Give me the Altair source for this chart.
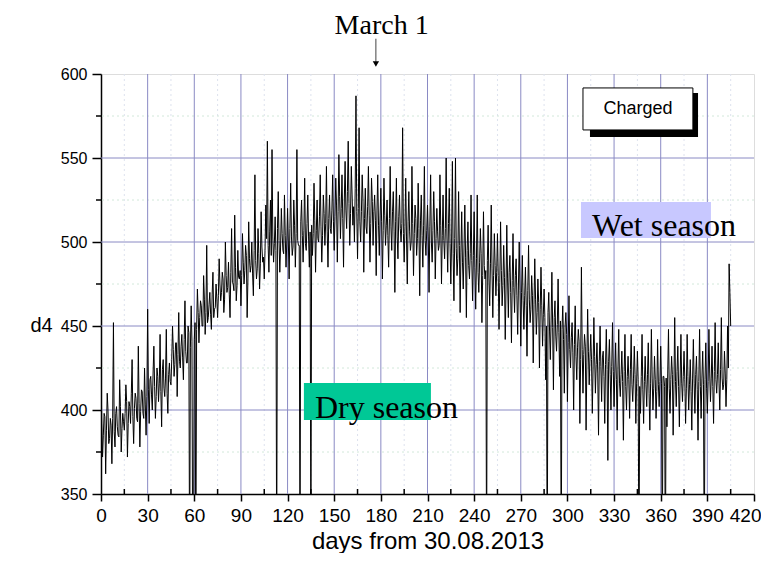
import altair as alt
import pandas as pd

# ---- data; 300 = sensor drop-out below the axis ----
# readings at whole days 0..405
d4 = [
    425, 372, 398, 362, 410, 380, 395, 368, 452, 378, 402, 385, 418, 375, 398,
    388, 415, 372, 405, 392, 430, 380, 410, 395, 438, 378, 412, 398, 425, 385,
    460, 392, 420, 400, 438, 395, 425, 405, 445, 390, 430, 408, 448, 398, 428,
    415, 450, 420, 440, 408, 458, 425, 445, 418, 465, 428, 450, 300, 462, 300,
    442, 300, 472, 440, 465, 450, 480, 445, 498, 455, 470, 448, 482, 460, 475,
    455, 490, 465, 482, 458, 500, 470, 488, 455, 508, 475, 516, 465, 495, 478,
    462, 505, 475, 498, 455, 512, 482, 500, 468, 540, 478, 508, 472, 518, 488,
    478, 522, 560, 482, 525, 555, 488, 515, 300, 530, 482, 520, 495, 528, 485,
    520, 478, 535, 492, 525, 485, 555, 498, 300, 525, 488, 538, 495, 528, 485,
    300, 492, 535, 482, 525, 500, 540, 488, 528, 498, 545, 485, 528, 505, 540,
    495, 538, 488, 552, 502, 540, 485, 548, 508, 560, 498, 545, 510, 500, 587,
    490, 568, 500, 540, 482, 532, 505, 545, 488, 538, 498, 528, 480, 540, 492,
    532, 478, 538, 498, 525, 485, 545, 495, 530, 470, 538, 490, 528, 500, 568,
    488, 538, 475, 530, 495, 545, 480, 522, 492, 535, 468, 528, 485, 545, 492,
    522, 470, 540, 488, 530, 478, 520, 495, 540, 475, 528, 490, 550, 482, 532,
    475, 548, 465, 550, 480, 530, 458, 518, 472, 522, 455, 512, 478, 528, 465,
    518, 460, 528, 470, 508, 452, 518, 478, 300, 510, 462, 522, 455, 505, 468,
    505, 448, 512, 462, 498, 442, 510, 455, 492, 440, 505, 458, 490, 445, 500,
    438, 492, 448, 485, 432, 498, 452, 480, 428, 490, 445, 478, 425, 485, 438,
    472, 418, 300, 470, 430, 482, 412, 465, 435, 478, 420, 300, 462, 410, 458,
    405, 468, 425, 452, 400, 462, 418, 448, 392, 485, 410, 445, 388, 460, 415,
    445, 398, 455, 410, 440, 385, 450, 405, 435, 392, 448, 370, 442, 400, 452,
    402, 440, 388, 448, 408, 435, 382, 445, 400, 432, 395, 445, 405, 438, 392,
    435, 300, 398, 445, 392, 432, 402, 440, 388, 448, 400, 432, 395, 442, 402,
    438, 300, 420, 300, 390, 448, 398, 432, 385, 455, 402, 438, 390, 445, 405,
    435, 392, 445, 400, 430, 388, 442, 398, 432, 382, 448, 395, 435, 300, 440,
    398, 448, 405, 438, 392, 452, 410, 440, 400, 455, 412, 435, 402, 450, 487,
    450,
]
# readings at half days 0.5..404.5
d4_half = [
    392, 385, 396, 388, 400, 383, 391, 395, 387, 398, 390, 384, 402, 389, 393,
    398, 405, 392, 402, 410, 396, 401, 407, 393, 404, 399, 411, 395, 403, 408,
    412, 418, 409, 422, 414, 408, 420, 416, 411, 424, 413, 419, 410, 421, 417,
    430, 436, 427, 440, 433, 429, 438, 431, 442, 435, 428, 446, 437, 441, 300,
    452, 448, 458, 455, 462, 450, 466, 458, 452, 463, 457, 469, 455, 461, 466,
    468, 475, 470, 478, 466, 480, 473, 469, 482, 476, 471, 485, 474, 479, 483,
    480, 488, 483, 492, 478, 490, 486, 481, 495, 489, 484, 493, 487, 497, 491,
    495, 502, 498, 506, 492, 503, 499, 495, 508, 501, 497, 505, 493, 504, 500,
    500, 508, 503, 497, 510, 505, 501, 498, 512, 504, 507, 499, 511, 503, 506,
    510, 505, 513, 507, 502, 515, 509, 504, 517, 511, 506, 514, 508, 519, 512,
    515, 522, 518, 527, 520, 514, 525, 519, 530, 523, 517, 528, 521, 532, 518,
    520, 512, 518, 525, 514, 509, 521, 516, 511, 524, 518, 513, 519, 510, 516,
    512, 507, 516, 510, 504, 514, 509, 518, 506, 512, 503, 515, 508, 511, 505,
    509, 503, 512, 506, 500, 511, 505, 514, 502, 508, 513, 504, 510, 501, 507,
    503, 509, 500, 507, 512, 502, 506, 498, 510, 504, 501, 508, 503, 511, 499,
    500, 493, 502, 496, 490, 498, 494, 488, 497, 491, 495, 486, 493, 489, 492,
    485, 490, 482, 488, 493, 480, 486, 483, 489, 478, 487, 484, 480, 486, 482,
    480, 476, 483, 474, 479, 472, 478, 482, 470, 477, 473, 480, 468, 475, 471,
    470, 465, 468, 462, 471, 466, 460, 468, 463, 466, 458, 464, 460, 462, 457,
    455, 450, 458, 447, 453, 449, 455, 444, 451, 446, 453, 448, 442, 450, 445,
    440, 436, 443, 434, 439, 432, 437, 441, 430, 436, 433, 438, 428, 435, 431,
    430, 425, 432, 427, 422, 429, 426, 431, 420, 427, 424, 429, 421, 426, 423,
    422, 418, 425, 416, 421, 417, 423, 414, 420, 418, 424, 415, 419, 421, 416,
    418, 414, 420, 412, 417, 415, 421, 410, 416, 419, 413, 418, 411, 415, 417,
    416, 420, 414, 419, 422, 413, 418, 421, 415, 417, 423, 414, 419, 416, 420,
    418, 413, 420, 415, 411, 419, 416, 421, 412, 417, 414, 419, 415, 418, 413,
    417, 422, 419, 414, 423, 418, 421, 416, 424, 419, 415, 422, 418, 425, 470,
]
days = list(range(len(d4)))
half_days = [d + 0.5 for d in range(len(d4_half))]

x_major = [30, 60, 90, 120, 150, 180, 210, 240, 270, 300, 330, 360, 390]
x_minor = [15, 45, 75, 105, 135, 165, 195, 225, 255, 285, 315, 345, 375, 405]
x_labels = [0, 30, 60, 90, 120, 150, 180, 210, 240, 270, 300, 330, 360, 390, 420]
y_major = [400, 450, 500, 550]
y_minor = [375, 425, 475, 525, 575]
y_labels = [350, 400, 450, 500, 550, 600]

W, H = 653, 420
xs = alt.Scale(domain=[0, 420], nice=False, zero=False)
ys = alt.Scale(domain=[350, 600], nice=False, zero=False)

SANS = "Liberation Sans"
SERIF = "Liberation Serif"

df = pd.DataFrame({"day": days + half_days, "d4": d4 + d4_half}).sort_values("day")

xaxis = alt.Axis(values=x_labels, grid=False, title="days from 30.08.2013",
                 domainColor="black", domainWidth=1.5, tickColor="black", tickWidth=1.5,
                 tickSize=7, labelFont=SANS, labelFontSize=19, labelColor="black",
                 labelPadding=5, labelFlush=False,
                 labelAlign={"condition": {"test": "datum.value == 420", "value": "right"}, "value": "center"},
                 labelOffset={"condition": {"test": "datum.value == 420", "value": 7}, "value": 0},
                 titleFont=SANS, titleFontSize=24, titleFontWeight="normal",
                 titleColor="black", titleBaseline="alphabetic", titleY=54)
yaxis = alt.Axis(values=y_labels, grid=False, title="d4",
                 domainColor="black", domainWidth=1.5, tickColor="black", tickWidth=1.5,
                 tickSize=9, labelFont=SANS, labelFontSize=16, labelColor="black",
                 labelPadding=5, titleFont=SANS, titleFontSize=20, titleFontWeight="normal",
                 titleColor="black", titleAngle=0, titleAlign="center",
                 titleBaseline="middle", titleX=-60, titleY=251, labelFlush=False)

grid_vmin = alt.Chart(pd.DataFrame({"x": x_minor})).mark_rule(
    color="#dde2ee", strokeWidth=1, strokeDash=[2, 3]).encode(x=alt.X("x:Q", scale=xs))
grid_hmin = alt.Chart(pd.DataFrame({"y": y_minor})).mark_rule(
    color="#d2e8da", strokeWidth=1, strokeDash=[2, 3]).encode(y=alt.Y("y:Q", scale=ys))
grid_vmaj = alt.Chart(pd.DataFrame({"x": x_major})).mark_rule(
    color="#8a8ac4", strokeWidth=1).encode(x=alt.X("x:Q", scale=xs))
grid_hmaj = alt.Chart(pd.DataFrame({"y": y_major})).mark_rule(
    color="#8a8ac4", strokeWidth=1).encode(y=alt.Y("y:Q", scale=ys))

line = alt.Chart(df).mark_line(color="black", strokeWidth=1.0, clip=True).encode(
    x=alt.X("day:Q", scale=xs, axis=xaxis),
    y=alt.Y("d4:Q", scale=ys, axis=yaxis),
    order="day:Q",
)

# minor ticks
xmin_ticks = alt.Chart(pd.DataFrame({"x": x_minor})).mark_rule(
    color="black", strokeWidth=1.5).encode(
    x=alt.X("x:Q", scale=xs), y=alt.value(H), y2=alt.value(H - 5))
ymin_ticks = alt.Chart(pd.DataFrame({"y": y_minor})).mark_rule(
    color="black", strokeWidth=1.5).encode(
    y=alt.Y("y:Q", scale=ys), x=alt.value(0), x2=alt.value(-5))

# season boxes
boxes = pd.DataFrame({
    "x1": [130.5, 308.7], "x2": [212.2, 392.3],
    "y1": [394.0, 502.4], "y2": [416.0, 523.8],
    "c": ["#00c896", "#c8c8ff"],
})
box_layer = alt.Chart(boxes).mark_rect().encode(
    x=alt.X("x1:Q", scale=xs), x2="x2:Q",
    y=alt.Y("y1:Q", scale=ys), y2="y2:Q",
    color=alt.Color("c:N", scale=None))

labels = pd.DataFrame({"x": [137.6, 315.8], "y": [401.0, 509.5],
                       "t": ["Dry season", "Wet season"]})
label_layer = alt.Chart(labels).mark_text(
    font=SERIF, fontSize=32, align="left", baseline="middle", color="black").encode(
    x=alt.X("x:Q", scale=xs), y=alt.Y("y:Q", scale=ys), text="t:N")

# "Charged" legend box with shadow
shadow = alt.Chart(pd.DataFrame({"x1": [314.5], "x2": [384.0], "y1": [562.5], "y2": [588.7]})).mark_rect(
    color="black").encode(x=alt.X("x1:Q", scale=xs), x2="x2:Q", y=alt.Y("y1:Q", scale=ys), y2="y2:Q")
cbox = alt.Chart(pd.DataFrame({"x1": [310.0], "x2": [380.7], "y1": [566.7], "y2": [591.7]})).mark_rect(
    fill="white", stroke="black", strokeWidth=1).encode(
    x=alt.X("x1:Q", scale=xs), x2="x2:Q", y=alt.Y("y1:Q", scale=ys), y2="y2:Q")
ctext = alt.Chart(pd.DataFrame({"x": [345.4], "y": [579.2], "t": ["Charged"]})).mark_text(
    font=SANS, fontSize=18, align="center", baseline="middle", color="black").encode(
    x=alt.X("x:Q", scale=xs), y=alt.Y("y:Q", scale=ys), text="t:N")

# March 1 annotation with arrow
march = alt.Chart(pd.DataFrame({"x": [180.5], "y": [623.8], "t": ["March 1"]})).mark_text(
    font=SERIF, fontSize=28, align="center", baseline="alphabetic", color="black", clip=False).encode(
    x=alt.X("x:Q", scale=xs), y=alt.Y("y:Q", scale=ys), text="t:N")
arrow_shaft = alt.Chart(pd.DataFrame({"x": [176.8], "y1": [621.0], "y2": [607.0]})).mark_rule(
    color="#444444", strokeWidth=1, clip=False).encode(
    x=alt.X("x:Q", scale=xs), y=alt.Y("y1:Q", scale=ys), y2="y2:Q")
arrow_head = alt.Chart(pd.DataFrame({"x": [176.8], "y": [606.0]})).mark_point(
    shape="triangle-down", filled=True, color="black", size=40, opacity=1, clip=False).encode(
    x=alt.X("x:Q", scale=xs), y=alt.Y("y:Q", scale=ys))

chart = alt.layer(
    grid_vmin, grid_hmin, grid_vmaj, grid_hmaj, line, box_layer, label_layer,
    shadow, cbox, ctext, xmin_ticks, ymin_ticks, march, arrow_shaft, arrow_head,
).properties(
    width=W, height=H,
    padding={"left": 93, "top": 66, "right": 7, "bottom": 59},
    autosize=alt.AutoSizeParams(type="none"),
).configure_view(stroke=None).configure(background="white")

chart.save("out.html", embed_options={"renderer": "svg", "actions": False})
